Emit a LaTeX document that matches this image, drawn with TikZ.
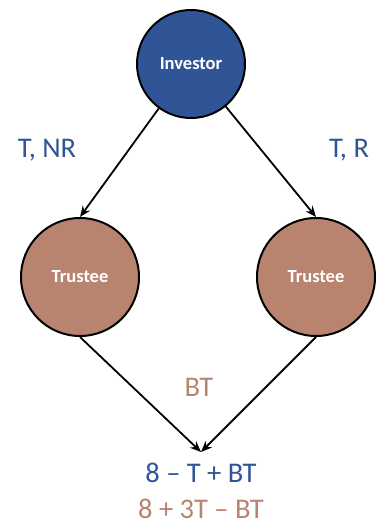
\documentclass[tikz,border=0pt]{standalone}
\usepackage{fontspec}
\setmainfont{Carlito}
\usetikzlibrary{arrows.meta}
\definecolor{invblue}{HTML}{2F5597}
\definecolor{trbrown}{HTML}{B8846F}
\begin{document}
\begin{tikzpicture}[x=1pt,y=-1pt,
  player/.style={circle,draw=black,line width=2pt,minimum size=#1,inner sep=0pt,
    text=white,font=\bfseries\fontsize{18.5}{22}\selectfont},
  payoff/.style={font=\fontsize{28.5}{32}\selectfont,inner sep=0pt},
  move/.style={line width=1.8pt,-{Stealth[length=11pt,width=9pt]}}]
  \useasboundingbox (0,0) rectangle (375,527);
  % players
  \node[player=108pt,fill=invblue] (inv) at (191,64) {Investor};
  \node[player=118pt,fill=trbrown] (t1) at (80,277) {Trustee};
  \node[player=118pt,fill=trbrown] (t2) at (316,277) {Trustee};
  \coordinate (end) at (201,452);
  % moves
  \draw[move] (inv) -- (t1.north);
  \draw[move] (inv) -- (t2.north);
  \draw[move] (t1.south) -- (end);
  \draw[move] (t2.south) -- (end);
  % labels
  \node[payoff,text=invblue] (lnr) at (47,150) {T, NR};
  \node[payoff,text=invblue] (lr) at (349,150) {T, R};
  \node[payoff,text=trbrown] (lbt) at (199,387) {BT};
  \node[payoff,text=invblue] (p1) at (201,473) {8 – T + BT};
  \node[payoff,text=trbrown] (p2) at (201,509) {8 + 3T – BT};
\end{tikzpicture}
\end{document}
